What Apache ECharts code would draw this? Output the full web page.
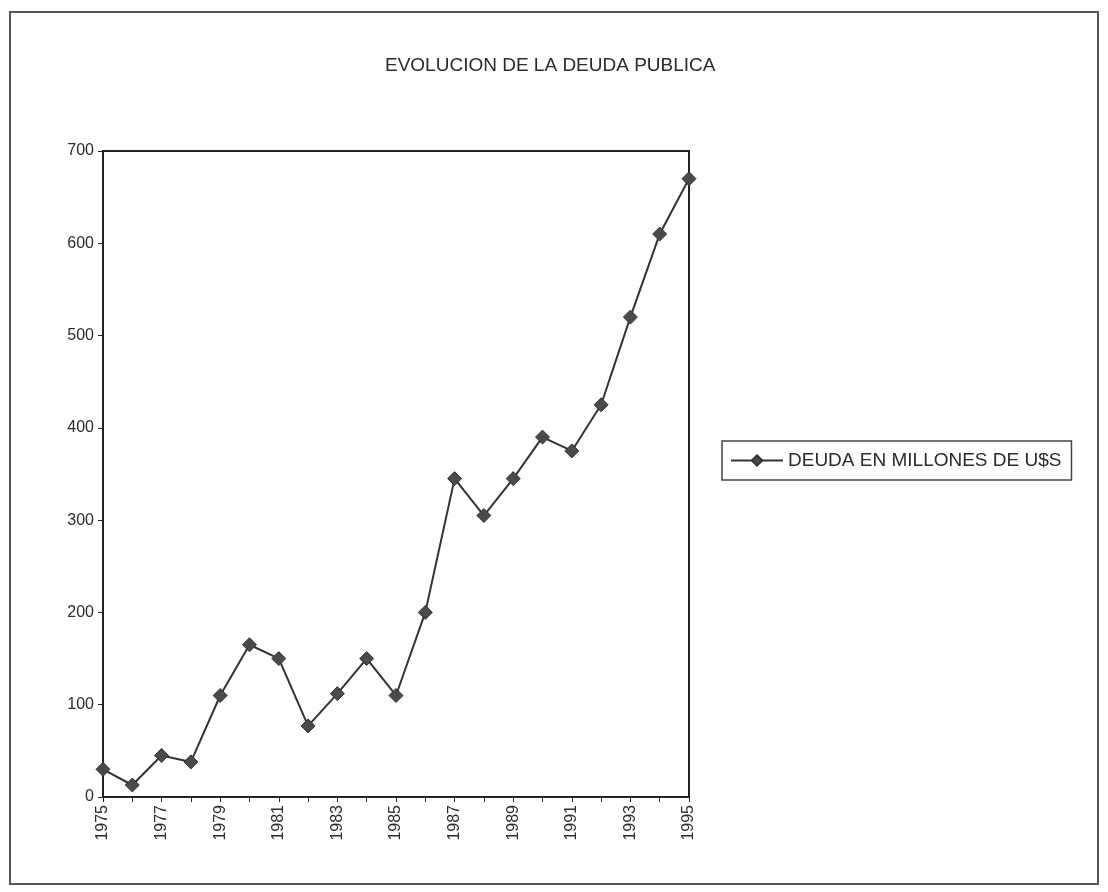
<!DOCTYPE html>
<html>
<head>
<meta charset="utf-8">
<script src="https://cdn.jsdelivr.net/npm/echarts@6/dist/echarts.min.js"></script>
<style>
  html, body { margin: 0; padding: 0; background: #fff; }
  #main { width: 1108px; height: 892px; }
</style>
</head>
<body>
<div id="main"></div>
<script>
var years = ['1975','1976','1977','1978','1979','1980','1981','1982','1983','1984','1985',
             '1986','1987','1988','1989','1990','1991','1992','1993','1994','1995'];
var deuda = [30, 13, 45, 38, 110, 165, 150, 77, 112, 150, 110,
             200, 345, 305, 345, 390, 375, 425, 520, 610, 670];
var yTicks = [0, 100, 200, 300, 400, 500, 600, 700];

var font = '"Liberation Sans", Arial, sans-serif';
var ink = '#2b2b2b';

var chart = echarts.init(document.getElementById('main'));
var option = {
    backgroundColor: '#fff',
    animation: false,
    title: {
        text: 'EVOLUCION DE LA DEUDA PUBLICA',
        left: 380,
        top: 51,
        textStyle: { fontFamily: font, fontSize: 19, fontWeight: 'normal', color: ink }
    },
    graphic: [{
        type: 'rect',
        shape: { x: 10, y: 12, width: 1088, height: 872 },
        style: { fill: null, stroke: '#555', lineWidth: 2 },
        silent: true
    }],
    legend: {
        data: ['DEUDA EN MILLONES DE U$S'],
        left: 722,
        top: 441,
        orient: 'vertical',
        borderColor: '#444',
        borderWidth: 1.5,
        borderRadius: 0,
        padding: [10, 10, 10, 8],
        itemWidth: 52,
        itemHeight: 13,
        itemGap: 6,
        textStyle: { fontFamily: font, fontSize: 19, color: ink }
    },
    grid: {
        left: 103,
        right: 419,
        top: 151,
        bottom: 95,
        show: true,
        borderColor: '#222',
        borderWidth: 2
    },
    xAxis: {
        type: 'category',
        data: years,
        boundaryGap: false,
        axisLine: { lineStyle: { color: '#222', width: 2 } },
        axisTick: { show: true, interval: 0, length: 5, lineStyle: { color: '#222' } },
        axisLabel: {
            interval: 1,
            rotate: 90,
            margin: 8,
            fontFamily: font,
            fontSize: 16,
            color: ink
        },
        splitLine: { show: false }
    },
    yAxis: {
        type: 'value',
        min: yTicks[0],
        max: yTicks[yTicks.length - 1],
        interval: 100,
        axisLine: { show: true, lineStyle: { color: '#222', width: 2 } },
        axisTick: { show: true, length: 5, lineStyle: { color: '#222' } },
        axisLabel: { fontFamily: font, fontSize: 16, color: ink, margin: 9 },
        splitLine: { show: false }
    },
    series: [{
        name: 'DEUDA EN MILLONES DE U$S',
        type: 'line',
        data: deuda,
        symbol: 'diamond',
        symbolSize: 14,
        showAllSymbol: true,
        itemStyle: { color: '#4a4a4a', borderColor: '#333', borderWidth: 1 },
        lineStyle: { color: '#333', width: 2 }
    }]
};
chart.setOption(option);
</script>
</body>
</html>
